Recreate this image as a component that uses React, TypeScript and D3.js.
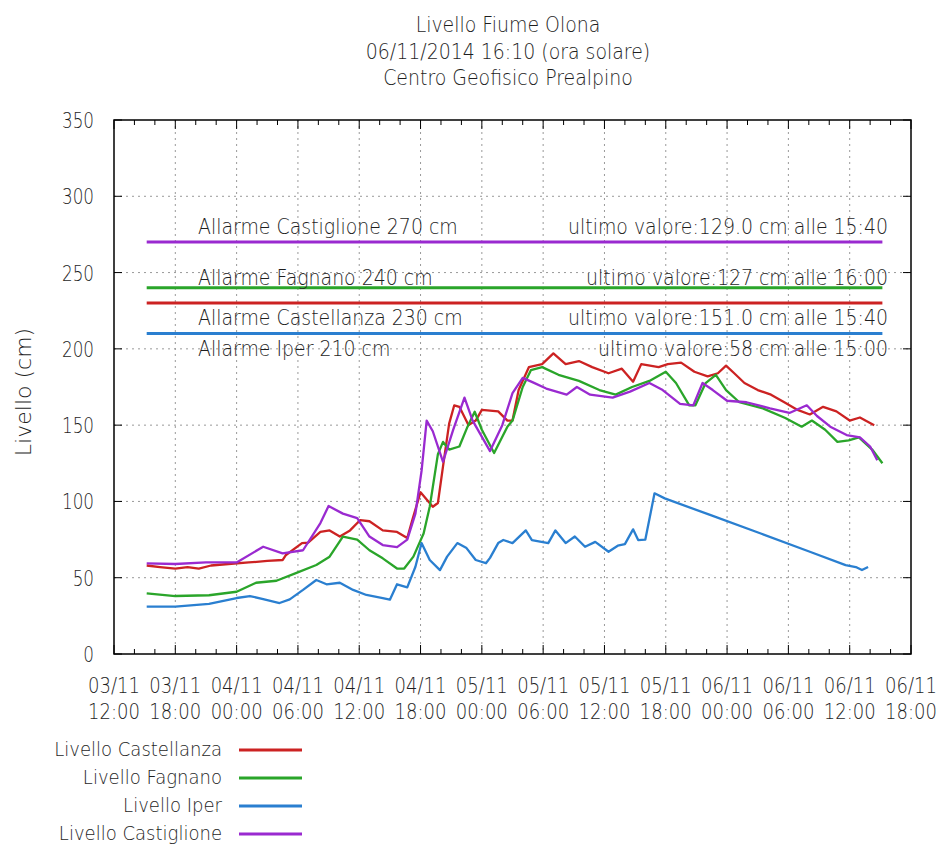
import React from "react";
import * as d3 from "d3";

// hours since 03/11/2014 12:00
const titleLines = ["Livello Fiume Olona", "06/11/2014 16:10 (ora solare)", "Centro Geofisico Prealpino"];
const xTickLabels = [
  ["03/11", "12:00"], ["03/11", "18:00"], ["04/11", "00:00"], ["04/11", "06:00"],
  ["04/11", "12:00"], ["04/11", "18:00"], ["05/11", "00:00"], ["05/11", "06:00"],
  ["05/11", "12:00"], ["05/11", "18:00"], ["06/11", "00:00"], ["06/11", "06:00"],
  ["06/11", "12:00"], ["06/11", "18:00"],
];
const yTicks = [0, 50, 100, 150, 200, 250, 300, 350];

const castellanza: [number, number][] = [
  [3.2, 58], [4.5, 57], [6, 56], [7.2, 57], [8.3, 56], [9.5, 58], [11.2, 59], [13.2, 60], [15, 61], [16.5, 61.6],
  [16.8, 64.7], [18.4, 72.7], [19, 73], [20.2, 80], [21.1, 81], [22.1, 77], [23.1, 81], [24.1, 87.8], [25, 87],
  [26.3, 81], [27.7, 80], [28.7, 76], [29.2, 88], [30, 106], [31.2, 96.5], [31.7, 99], [32.2, 123], [32.8, 151],
  [33.3, 163], [33.8, 162], [34.7, 150], [35.4, 153], [36, 160], [37.6, 159], [38.5, 153], [39, 153], [39.6, 173],
  [40.6, 188], [41.9, 190], [43, 197], [44.2, 190], [45.5, 192], [46.8, 188], [48.4, 184], [49.7, 187], [50.8, 178.5],
  [51.6, 190], [53.3, 188], [54.2, 190], [55.5, 191], [56.8, 185], [58.1, 182], [59.1, 184], [59.9, 189], [60.7, 184],
  [61.7, 177.6], [63, 173], [64.3, 170], [65.6, 165], [66.9, 160], [68.1, 157], [69.4, 162], [70.7, 159], [72, 153],
  [73, 155], [74.4, 150],
];
const fagnano: [number, number][] = [
  [3.2, 39.8], [6, 38], [9.3, 38.5], [12, 40.8], [13.9, 46.7], [15.9, 48], [17.8, 53], [19.8, 58.3], [21.1, 63.8],
  [22.4, 77], [23.8, 75], [25, 68], [26.3, 62.7], [27.7, 56], [28.4, 56], [29.3, 63.8], [30.3, 79], [30.9, 96.5],
  [31.7, 131], [32.2, 139], [32.8, 134], [33.8, 136], [34.6, 149], [35.3, 158.8], [36, 147], [37.2, 131.7],
  [38.5, 149], [39, 153], [40, 175], [40.8, 186], [41.9, 188], [43.5, 183], [45.5, 179], [47.5, 173], [49.1, 170],
  [50.7, 175], [52.4, 179], [54, 185], [55, 177.6], [56.3, 163], [56.9, 163], [57.9, 177.6], [58.9, 183], [59.9, 173],
  [61.2, 165], [63.5, 161], [65.7, 154.7], [67.3, 149], [68.3, 153], [69.6, 147], [70.8, 139], [71.9, 140], [72.9, 142],
  [74.2, 134], [75.2, 125],
];
const iper: [number, number][] = [
  [3.2, 31], [6, 31], [9.3, 32.8], [12, 36.7], [13.3, 38], [14.6, 36], [16.2, 33.4], [17.2, 35.8], [18.5, 42],
  [19.8, 48.5], [20.8, 45.7], [22.1, 46.7], [23.4, 42], [24.7, 38.7], [26.3, 36.7], [27, 35.6], [27.7, 45.7],
  [28.7, 43.7], [29.5, 57.2], [30.1, 72.7], [30.9, 61.6], [31.9, 55], [32.6, 63.8], [33.6, 72.7], [34.5, 69.4],
  [35.4, 61.6], [36.4, 59.5], [36.8, 63], [37.6, 72.7], [38.1, 74.7], [39, 72.7], [40.3, 81], [40.9, 74.7],
  [42.5, 72.7], [43.2, 81], [44.2, 72.7], [45.1, 77], [46.1, 70.3], [47.1, 73.5], [48.4, 67], [49.3, 71], [50, 72],
  [50.8, 81.7], [51.3, 74.7], [52, 75], [52.9, 105.3], [53.9, 102], [58.4, 91], [63.3, 79], [68.1, 67], [71.6, 58.3],
  [72.6, 57], [73.2, 55], [73.8, 57],
];
const castiglione: [number, number][] = [
  [3.2, 59.4], [6, 59], [9, 60], [12, 60], [14.6, 70.3], [16.5, 66], [18.5, 68], [20.2, 85.8], [21, 97], [22.4, 92],
  [23.8, 89], [25, 77], [26.3, 71.4], [27.7, 70], [28.7, 75], [29.5, 92], [30.1, 120], [30.6, 153], [31.2, 146],
  [32.2, 126], [33.2, 147], [34.3, 168], [35.1, 153], [36.8, 133], [38, 150], [39, 171], [40, 181], [41, 178],
  [42.3, 174], [44.3, 170], [45.3, 175], [46.6, 170], [48.8, 168], [50.5, 172], [52.4, 177.6], [53.7, 173],
  [55.4, 164], [56.7, 163], [57.6, 177.6], [58.6, 173], [60, 166], [61.9, 165], [64.2, 161], [66.1, 158],
  [67.8, 163], [68.8, 156], [70.1, 149], [71.7, 143.5], [73, 142], [74, 136], [74.7, 127],
];

const seriesNames = ["Livello Castellanza", "Livello Fagnano", "Livello Iper", "Livello Castiglione"];
const seriesColors = ["#cc2222", "#2aa52a", "#2a7fd0", "#9a2ad0"];
const seriesData = [castellanza, fagnano, iper, castiglione];

const alarmLabels = ["Allarme Castiglione 270 cm", "Allarme Fagnano 240 cm", "Allarme Castellanza 230 cm", "Allarme Iper 210 cm"];
const alarmValues = [270, 240, 230, 210];
const alarmColors = ["#9a2ad0", "#2aa52a", "#cc2222", "#2a7fd0"];
const lastValueLabels = [
  "ultimo valore:129.0 cm alle 15:40",
  "ultimo valore:127 cm alle 16:00",
  "ultimo valore:151.0 cm alle 15:40",
  "ultimo valore:58 cm alle 15:00",
];
const alarmTextOffsets = [-8, -3, 22, 22];

const FONT = "DejaVu Sans, sans-serif";
const TXT = "#1e1e1e";

function T(props: { x: number; y: number; s?: number; size: number; anchor?: string; children: React.ReactNode }) {
  const { x, y, s = 0.85, size, anchor = "start", children } = props;
  return (
    <text transform={`translate(${x},${y}) scale(${s},1)`} textAnchor={anchor as any} fontSize={size} fill={TXT} fontWeight={300}>
      {children}
    </text>
  );
}

export default function App() {
  const W = 942, H = 848;
  const left = 114, right = 911, top = 120, bottom = 654;
  const x = d3.scaleLinear().domain([0, 78]).range([left, right]);
  const y = d3.scaleLinear().domain([0, 350]).range([bottom, top]);
  const line = d3.line<[number, number]>().x((d) => x(d[0])).y((d) => y(d[1]));
  const majors = d3.range(0, 79, 6);
  const minors = d3.range(2, 78, 2).filter((h) => h % 6 !== 0);
  const alarmX0 = x(3.2), alarmX1 = x(75.2);

  return (
    <svg width={W} height={H} style={{ position: "absolute", left: 0, top: 0, background: "#fff" }} fontFamily={FONT}>
      <rect x={0} y={0} width={W} height={H} fill="#fff" />
      {titleLines.map((t, i) => (
        <T key={i} x={508} y={32 + i * 26.5} size={22} s={0.86} anchor="middle">{t}</T>
      ))}
      {/* grid */}
      {yTicks.filter((v) => v > 0 && v < 350).map((v) => (
        <line key={"gy" + v} x1={left} x2={right} y1={y(v)} y2={y(v)} stroke="#999" strokeWidth={1} strokeDasharray="2,4" />
      ))}
      {majors.filter((h) => h > 0 && h < 78).map((h) => (
        <line key={"gx" + h} x1={x(h)} x2={x(h)} y1={top} y2={bottom} stroke="#999" strokeWidth={1} strokeDasharray="2,4" />
      ))}
      {/* ticks */}
      {yTicks.map((v) => (
        <g key={"yt" + v}>
          <line x1={left} x2={left + 8} y1={y(v)} y2={y(v)} stroke="#000" />
          <line x1={right} x2={right - 8} y1={y(v)} y2={y(v)} stroke="#000" />
          <T x={94} y={y(v) + 8} size={21} s={0.8} anchor="end">{v}</T>
        </g>
      ))}
      {majors.map((h) => (
        <g key={"xt" + h}>
          <line x1={x(h)} x2={x(h)} y1={bottom} y2={bottom - 9} stroke="#000" />
          <line x1={x(h)} x2={x(h)} y1={top} y2={top + 9} stroke="#000" />
        </g>
      ))}
      {minors.map((h) => (
        <g key={"xm" + h}>
          <line x1={x(h)} x2={x(h)} y1={bottom} y2={bottom - 5} stroke="#000" />
          <line x1={x(h)} x2={x(h)} y1={top} y2={top + 5} stroke="#000" />
        </g>
      ))}
      {xTickLabels.map((lbl, i) => (
        <g key={"xl" + i}>
          <T x={x(i * 6)} y={693} size={22} s={0.82} anchor="middle">{lbl[0]}</T>
          <T x={x(i * 6)} y={719} size={22} s={0.82} anchor="middle">{lbl[1]}</T>
        </g>
      ))}
      <text transform={`translate(31,392) rotate(-90)`} textAnchor="middle" fontSize={22} fill={TXT} fontWeight={300}>Livello (cm)</text>
      {/* alarms */}
      {alarmValues.map((v, i) => (
        <g key={"al" + i}>
          <line x1={alarmX0} x2={alarmX1} y1={y(v)} y2={y(v)} stroke={alarmColors[i]} strokeWidth={3} />
          <T x={198} y={y(v) + alarmTextOffsets[i]} size={22} s={0.86}>{alarmLabels[i]}</T>
          <T x={888} y={y(v) + alarmTextOffsets[i]} size={22} s={0.86} anchor="end">{lastValueLabels[i]}</T>
        </g>
      ))}
      {/* series */}
      {seriesData.map((d, i) => (
        <path key={"s" + i} d={line(d) || ""} fill="none" stroke={seriesColors[i]} strokeWidth={2.3} strokeLinejoin="round" />
      ))}
      <rect x={left} y={top} width={right - left} height={bottom - top} fill="none" stroke="#000" strokeWidth={1.5} />
      {/* legend */}
      {seriesNames.map((n, i) => (
        <g key={"lg" + i}>
          <T x={222} y={756 + i * 28} size={19} s={0.95} anchor="end">{n}</T>
          <line x1={239} x2={302} y1={750 + i * 28} y2={750 + i * 28} stroke={seriesColors[i]} strokeWidth={3} />
        </g>
      ))}
    </svg>
  );
}
